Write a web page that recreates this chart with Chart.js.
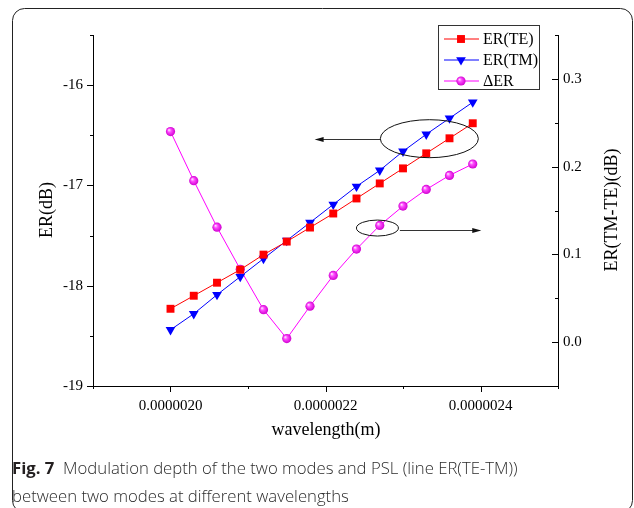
<!DOCTYPE html>
<html>
<head>
<meta charset="utf-8">
<script src="https://cdn.jsdelivr.net/npm/chart.js@4/dist/chart.umd.min.js"></script>
<style>
  html, body { margin: 0; padding: 0; background: #fff; }
  #wrap { width: 634px; height: 508px; }
</style>
</head>
<body>
<div id="wrap"><canvas id="erChart" width="634" height="508"></canvas></div>
<script>
// wavelength (m) and the three series
var wavelength = [2.00e-6, 2.03e-6, 2.06e-6, 2.09e-6, 2.12e-6, 2.15e-6, 2.18e-6,
                  2.21e-6, 2.24e-6, 2.27e-6, 2.30e-6, 2.33e-6, 2.36e-6, 2.39e-6];
var erTE = [-18.23, -18.10, -17.97, -17.84, -17.69, -17.56, -17.42,
            -17.28, -17.13, -16.98, -16.83, -16.68, -16.53, -16.38];
var erTM = [-18.44, -18.28, -18.09, -17.91, -17.73, -17.55, -17.37,
            -17.19, -17.01, -16.85, -16.66, -16.49, -16.33, -16.17];
var deltaER = [0.240, 0.184, 0.131, 0.083, 0.037, 0.004, 0.041,
               0.076, 0.106, 0.133, 0.155, 0.174, 0.190, 0.203];

var seriesLabels = ['ER(TE)', 'ER(TM)', '\u0394ER'];
var captionBold = 'Fig. 7';
var captionLine1 = 'Modulation depth of the two modes and PSL (line ER(TE-TM))';
var captionLine2 = 'between two modes at different wavelengths';

var SERIF = '"Liberation Serif", "Times New Roman", serif';
Chart.defaults.font.family = SERIF;

function pairs(ys) {
  return ys.map(function (v, i) { return { x: wavelength[i], y: v }; });
}

function sphere(ctx2d, px, py, r) {
  var g = ctx2d.createRadialGradient(px - r * 0.35, py - r * 0.35, 0.3, px, py, r);
  g.addColorStop(0, '#ffe0ff');
  g.addColorStop(0.35, '#ff4dff');
  g.addColorStop(1, '#d000d0');
  return g;
}

function sphereFill(context) {
  if (context.type !== 'data' || !context.parsed) return '#ff00ff';
  var ch = context.chart;
  var px = ch.scales.x.getPixelForValue(context.parsed.x);
  var py = ch.scales.y1.getPixelForValue(context.parsed.y);
  if (!isFinite(px) || !isFinite(py)) return '#ff00ff';
  return sphere(ch.ctx, px, py, 4.6);
}

// tick marks: major/minor, in or out
var tickMarks = {
  id: 'tickMarks',
  afterDraw: function (chart) {
    var ctx = chart.ctx, a = chart.chartArea;
    ctx.save();
    ctx.strokeStyle = '#000';
    ctx.lineWidth = 1;
    ctx.beginPath();
    chart.scales.x.ticks.forEach(function (t) {
      var p = Math.round(chart.scales.x.getPixelForValue(t.value)) + 0.5;
      var len = t.label ? 6 : 3;
      ctx.moveTo(p, a.bottom); ctx.lineTo(p, a.bottom + len);
    });
    chart.scales.y.ticks.forEach(function (t) {
      var p = Math.round(chart.scales.y.getPixelForValue(t.value)) + 0.5;
      var len = t.label ? 6 : 3;
      ctx.moveTo(a.left, p); ctx.lineTo(a.left - len, p);
    });
    chart.scales.y1.ticks.forEach(function (t) {
      var p = Math.round(chart.scales.y1.getPixelForValue(t.value)) + 0.5;
      var len = t.label ? 6 : 3;
      ctx.moveTo(a.right, p); ctx.lineTo(a.right - len, p);
    });
    ctx.stroke();
    ctx.restore();
  }
};

// legend box in the top right of the plot
var boxLegend = {
  id: 'boxLegend',
  afterDraw: function (chart) {
    var ctx = chart.ctx;
    var bx = 438, by = 25, bw = 101, bh = 64;
    ctx.save();
    ctx.fillStyle = '#fff';
    ctx.fillRect(bx, by, bw, bh);
    ctx.strokeStyle = '#333';
    ctx.lineWidth = 1;
    ctx.strokeRect(bx + 0.5, by + 0.5, bw, bh);
    chart.data.datasets.forEach(function (ds, i) {
      var y = by + 14 + i * 21;
      ctx.strokeStyle = ds.borderColor;
      ctx.lineWidth = 1;
      ctx.beginPath();
      ctx.moveTo(bx + 6, y); ctx.lineTo(bx + 41, y);
      ctx.stroke();
      var mx = bx + 23;
      ctx.fillStyle = i === 2 ? sphere(ctx, mx, y, 4.6) : ds.borderColor;
      ctx.strokeStyle = ds.borderColor;
      Chart.helpers.drawPoint(ctx, {
        pointStyle: ds.pointStyle,
        rotation: ds.pointRotation || 0,
        radius: ds.pointRadius,
        borderWidth: ds.pointBorderWidth || 0
      }, mx, y);
      ctx.fillStyle = '#000';
      ctx.font = '16px ' + SERIF;
      ctx.textAlign = 'left';
      ctx.textBaseline = 'middle';
      ctx.fillText(ds.label, bx + 45, y + 1);
    });
    ctx.restore();
  }
};

// ellipses with arrows pointing at the axis each group belongs to
var callouts = {
  id: 'callouts',
  afterDraw: function (chart) {
    var ctx = chart.ctx, sx = chart.scales.x;
    var list = [
      { scale: 'y', cx: 2.334e-6, cy: -16.534, rx: 49, ry: 19, from: 2.271e-6, to: 2.186e-6 },
      { scale: 'y1', cx: 2.267e-6, cy: 0.130, rx: 21, ry: 8, from: 2.296e-6, to: 2.401e-6 }
    ];
    ctx.save();
    list.forEach(function (c) {
      var sy = chart.scales[c.scale];
      var px = sx.getPixelForValue(c.cx), py = sy.getPixelForValue(c.cy);
      ctx.strokeStyle = '#111';
      ctx.lineWidth = 1;
      ctx.beginPath();
      ctx.ellipse(px, py, c.rx, c.ry, 0, 0, Math.PI * 2);
      ctx.stroke();
      var x0 = sx.getPixelForValue(c.from), x1 = sx.getPixelForValue(c.to);
      var ay = Math.round(py) + 0.5 + (c.scale === 'y1' ? 2 : 0);
      var dir = x1 > x0 ? 1 : -1;
      ctx.strokeStyle = '#333';
      ctx.beginPath();
      ctx.moveTo(x0, ay); ctx.lineTo(x1 - dir * 6, ay);
      ctx.stroke();
      ctx.fillStyle = '#111';
      ctx.beginPath();
      ctx.moveTo(x1, ay);
      ctx.lineTo(x1 - dir * 9, ay - 2.5);
      ctx.lineTo(x1 - dir * 9, ay + 2.5);
      ctx.closePath();
      ctx.fill();
    });
    ctx.restore();
  }
};

// axis titles, caption and the rounded frame of the figure
var frameAndText = {
  id: 'frameAndText',
  afterDraw: function (chart) {
    var ctx = chart.ctx;
    ctx.save();
    ctx.fillStyle = '#000';
    ctx.font = '18px ' + SERIF;
    ctx.textAlign = 'center';
    ctx.textBaseline = 'middle';
    ctx.fillText('wavelength(m)', 326, 430);
    ctx.translate(47, 210);
    ctx.rotate(-Math.PI / 2);
    ctx.fillText('ER(dB)', 0, 0);
    ctx.restore();

    ctx.save();
    ctx.fillStyle = '#000';
    ctx.font = '18px ' + SERIF;
    ctx.textAlign = 'center';
    ctx.textBaseline = 'middle';
    ctx.translate(612, 210);
    ctx.rotate(-Math.PI / 2);
    ctx.fillText('ER(TM-TE)(dB)', 0, 0);
    ctx.restore();

    // caption, sized so the first line spans the same width as the figure's
    ctx.save();
    ctx.textAlign = 'left';
    ctx.textBaseline = 'alphabetic';
    var size = 16;
    ctx.font = 'bold ' + size + 'px "Open Sans", sans-serif';
    var wb = ctx.measureText(captionBold + '  ').width;
    ctx.font = size + 'px "Open Sans", sans-serif';
    var wl = ctx.measureText(captionLine1).width;
    size = size * 523 / (wb + wl);
    ctx.font = 'bold ' + size + 'px "Open Sans", sans-serif';
    ctx.fillStyle = '#231f20';
    ctx.fillText(captionBold, 12, 474);
    var w = ctx.measureText(captionBold + '  ').width;
    ctx.font = '300 ' + size + 'px "Open Sans", sans-serif';
    ctx.fillStyle = '#2b2b2b';
    ctx.fillText(captionLine1, 12 + w, 474);
    ctx.fillText(captionLine2, 12, 502);

    ctx.strokeStyle = '#222';
    ctx.lineWidth = 1;
    ctx.beginPath();
    ctx.roundRect(12.5, 8.5, 620, 504, 12);
    ctx.stroke();
    ctx.restore();
  }
};

function fixWidth(w) { return function (scale) { scale.width = w; }; }

new Chart(document.getElementById('erChart').getContext('2d'), {
  type: 'line',
  data: {
    datasets: [{
      label: seriesLabels[0],
      data: pairs(erTE),
      yAxisID: 'y',
      borderColor: '#ff0000',
      backgroundColor: '#ff0000',
      borderWidth: 1,
      pointStyle: 'rect',
      pointRadius: 5.6,
      pointBorderWidth: 0,
      pointBackgroundColor: '#ff0000'
    }, {
      label: seriesLabels[1],
      data: pairs(erTM),
      yAxisID: 'y',
      borderColor: '#0000ff',
      backgroundColor: '#0000ff',
      borderWidth: 1,
      pointStyle: 'triangle',
      pointRotation: 180,
      pointRadius: 5.6,
      pointBorderWidth: 0,
      pointBackgroundColor: '#0000ff'
    }, {
      label: seriesLabels[2],
      data: pairs(deltaER),
      yAxisID: 'y1',
      borderColor: '#ff00ff',
      backgroundColor: '#ff00ff',
      borderWidth: 1,
      pointStyle: 'circle',
      pointRadius: 4.6,
      pointBorderWidth: 0,
      pointBackgroundColor: sphereFill
    }]
  },
  options: {
    responsive: false,
    animation: false,
    devicePixelRatio: 1,
    layout: { padding: { top: 35, left: 0, right: 0, bottom: 0 } },
    plugins: { legend: { display: false }, tooltip: { enabled: false } },
    elements: { line: { tension: 0 } },
    scales: {
      x: {
        type: 'linear',
        position: 'bottom',
        min: 1.9e-6,
        max: 2.5e-6,
        afterFit: function (s) { s.height = 122; },
        border: { display: true, color: '#000', width: 1 },
        grid: { display: false, drawTicks: false },
        ticks: {
          stepSize: 1e-7,
          padding: 11,
          color: '#000',
          font: { family: SERIF, size: 15 },
          maxRotation: 0,
          autoSkip: false,
          callback: function (v) {
            var n = Math.round(v * 1e7);
            return n % 2 === 0 ? (n / 1e7).toFixed(7) : '';
          }
        }
      },
      y: {
        position: 'left',
        min: -19,
        max: -15.5,
        afterFit: fixWidth(93),
        border: { display: true, color: '#000', width: 1 },
        grid: { display: false, drawTicks: false },
        ticks: {
          stepSize: 0.5,
          padding: 10,
          color: '#000',
          font: { family: SERIF, size: 15 },
          autoSkip: false,
          callback: function (v) {
            return Math.abs(v - Math.round(v)) < 1e-9 ? String(Math.round(v)) : '';
          }
        }
      },
      y1: {
        position: 'right',
        min: -0.05,
        max: 0.35,
        afterFit: fixWidth(76),
        border: { display: true, color: '#000', width: 1 },
        grid: { display: false, drawTicks: false },
        ticks: {
          stepSize: 0.05,
          padding: 5,
          color: '#000',
          font: { family: SERIF, size: 15 },
          autoSkip: false,
          callback: function (v) {
            var n = Math.round(v * 20);
            return n % 2 === 0 ? (n / 20).toFixed(1) : '';
          }
        }
      }
    }
  },
  plugins: [tickMarks, callouts, boxLegend, frameAndText]
});
</script>
</body>
</html>
